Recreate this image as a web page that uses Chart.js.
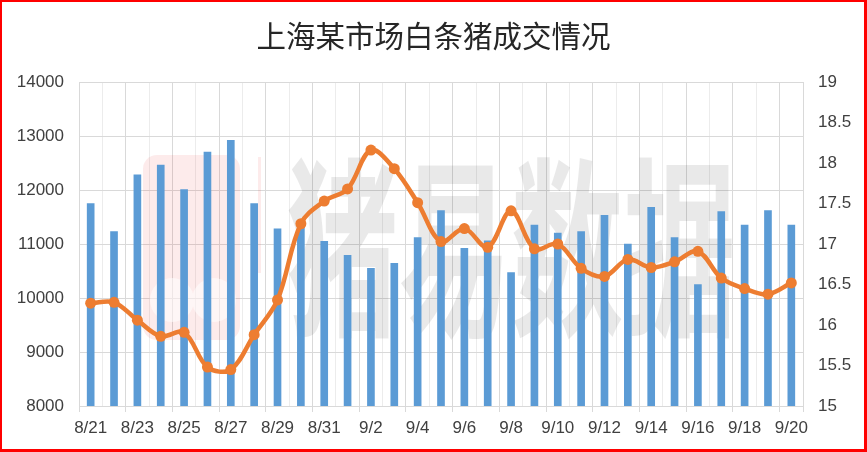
<!DOCTYPE html>
<html>
<head>
<meta charset="utf-8">
<script src="https://cdn.jsdelivr.net/npm/chart.js@4.4.1/dist/chart.umd.min.js"></script>
<style>
    html, body { margin: 0; padding: 0; background: #fff; }
    #wrap { position: relative; width: 867px; height: 452px; }
    #frame {
        position: absolute; left: 0; top: 0; right: 0; bottom: 0;
        border-style: solid; border-color: #ff0000;
        border-width: 2px 3px 3px 2px;
        pointer-events: none;
    }
</style>
</head>
<body>
<div id="wrap">
    <canvas id="myChart" width="867" height="452"></canvas>
    <div id="frame"></div>
</div>
<script>
const titleText = '上海某市场白条猪成交情况';
const days = ['8/21', '8/22', '8/23', '8/24', '8/25', '8/26', '8/27', '8/28', '8/29', '8/30', '8/31',
    '9/1', '9/2', '9/3', '9/4', '9/5', '9/6', '9/7', '9/8', '9/9', '9/10',
    '9/11', '9/12', '9/13', '9/14', '9/15', '9/16', '9/17', '9/18', '9/19', '9/20'];
// 成交量 (左轴)
const volume = [11750, 11230, 12280, 12460, 12010, 12700, 12920, 11750, 11280, 11320, 11050,
    10790, 10550, 10640, 11120, 11620, 10920, 11060, 10470, 11350, 11200,
    11230, 11530, 11000, 11680, 11120, 10250, 11600, 11350, 11620, 11350];
// 价格 (右轴)
const price = [16.27, 16.28, 16.06, 15.86, 15.91, 15.48, 15.45, 15.88, 16.31, 17.25, 17.53,
    17.68, 18.16, 17.93, 17.51, 17.03, 17.19, 16.96, 17.41, 16.94, 17.0,
    16.70, 16.60, 16.81, 16.71, 16.78, 16.91, 16.58, 16.45, 16.38, 16.52];
const leftTicks = [8000, 14000, 1000];
const rightTicks = [15, 19, 0.5];
const watermark = '猪易数据';

const gridDark = '#d9d9d9';
const gridLight = '#ececec';

const watermarkPlugin = {
    id: 'watermark',
    beforeDatasetsDraw: function (chart) {
        var ctx = chart.ctx;
        ctx.save();
        // logo
        ctx.fillStyle = 'rgba(235, 60, 60, 0.1)';
        ctx.beginPath();
        ctx.roundRect(143, 155, 97, 185, 14);
        ctx.fill();
        ctx.fillStyle = 'rgba(255, 255, 255, 0.55)';
        ctx.beginPath();
        ctx.arc(172, 300, 22, 0, Math.PI * 2);
        ctx.arc(214, 300, 22, 0, Math.PI * 2);
        ctx.fill();
        ctx.fillStyle = 'rgba(235, 60, 60, 0.1)';
        ctx.fillRect(258, 157, 3, 116);
        // text
        ctx.font = 'bold 110px "Noto Sans CJK SC"';
        ctx.fillStyle = 'rgba(0, 0, 0, 0.085)';
        ctx.textBaseline = 'middle';
        ctx.textAlign = 'left';
        var w = ctx.measureText(watermark).width;
        ctx.translate(286, 248);
        ctx.scale(450 / w, 1.75);
        ctx.fillText(watermark, 0, 0);
        ctx.restore();
    }
};

const drawChart = () => {
    Chart.defaults.font.family = "'Liberation Sans', Arial, sans-serif";
    Chart.defaults.font.size = 17;
    Chart.defaults.color = '#404040';

    var myChart = new Chart('myChart', {
        type: 'bar',
        data: {
            labels: days,
            datasets: [{
                type: 'line',
                data: price,
                yAxisID: 'y1',
                order: 0,
                borderColor: '#ED7D31',
                backgroundColor: '#ED7D31',
                borderWidth: 4.5,
                pointRadius: 5.5,
                pointBackgroundColor: '#ED7D31',
                pointBorderWidth: 0,
                tension: 0.35
            }, {
                type: 'bar',
                data: volume,
                yAxisID: 'y',
                order: 1,
                backgroundColor: '#5B9BD5',
                barThickness: 7
            }]
        },
        options: {
            responsive: false,
            animation: false,
            layout: { padding: 0 },
            plugins: {
                legend: { display: false },
                tooltip: { enabled: false },
                title: {
                    display: true,
                    text: titleText,
                    color: '#262626',
                    font: { family: "'Noto Sans CJK SC', sans-serif", size: 29.5, weight: 'normal', lineHeight: 1.2 },
                    padding: { top: 18, bottom: 28.6 }
                }
            },
            scales: {
                x: {
                    offset: true,
                    grid: {
                        offset: true,
                        color: function (c) { return (c.index === undefined || c.index % 2 === 0) ? gridDark : gridLight; },
                        tickColor: function (c) { return (c.index === undefined || c.index % 2 === 0) ? gridDark : 'rgba(0,0,0,0)'; },
                        tickLength: 6
                    },
                    border: { display: true, color: gridDark },
                    ticks: {
                        autoSkip: false,
                        maxRotation: 0,
                        padding: 6,
                        callback: function (v, i) { return i % 2 === 0 ? days[i] : ''; }
                    },
                    afterFit: function (s) { s.height = 46; }
                },
                y: {
                    position: 'left',
                    min: leftTicks[0],
                    max: leftTicks[1],
                    ticks: {
                        stepSize: leftTicks[2],
                        padding: 15,
                        callback: function (v) { return String(v); }
                    },
                    grid: { color: gridDark, drawTicks: false },
                    border: { display: false },
                    afterFit: function (s) { s.width = 79; }
                },
                y1: {
                    position: 'right',
                    min: rightTicks[0],
                    max: rightTicks[1],
                    ticks: {
                        stepSize: rightTicks[2],
                        padding: 15,
                        callback: function (v) { return String(v); }
                    },
                    grid: { drawOnChartArea: false, drawTicks: false },
                    border: { display: false },
                    afterFit: function (s) { s.width = 64; }
                }
            }
        },
        plugins: [watermarkPlugin]
    });
}

drawChart();
</script>
</body>
</html>
